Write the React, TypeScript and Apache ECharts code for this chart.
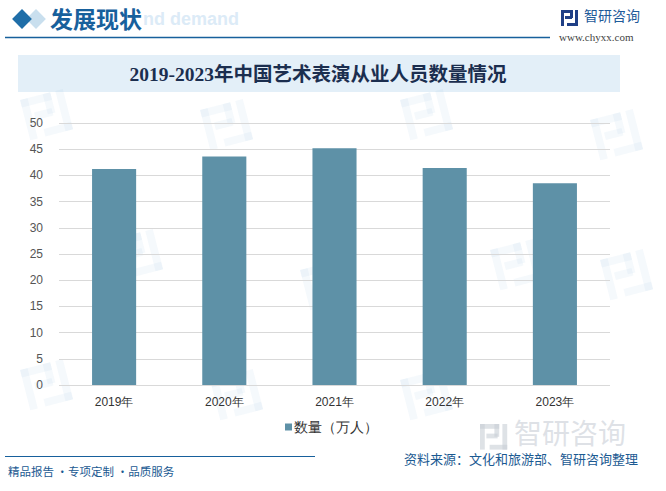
import React, { useEffect, useRef } from "react";
import * as echarts from "echarts";

const categories = ["2019年", "2020年", "2021年", "2022年", "2023年"];
const values = [41.2, 43.6, 45.2, 41.4, 38.5];
const seriesName = "数量（万人）";
const chartTitle = "2019-2023年中国艺术表演从业人员数量情况";
const sourceText = "资料来源：文化和旅游部、智研咨询整理";
const sloganText = "精品报告 ·专项定制 ·品质服务";

const BAR = "#5e91a7";
const BLUE = "#17609c";

function logo(x: number, y: number, s: number, color: string, opacity: number) {
  return {
    type: "group",
    x,
    y,
    scaleX: s,
    scaleY: s,
    silent: true,
    children: [
      { type: "rect", shape: { x: 0, y: 0, width: 12, height: 3 }, style: { fill: color, opacity } },
      { type: "rect", shape: { x: 9, y: 0, width: 3, height: 8 }, style: { fill: color, opacity } },
      { type: "rect", shape: { x: 0, y: 0, width: 3, height: 16 }, style: { fill: color, opacity } },
      { type: "rect", shape: { x: 4, y: 6, width: 7, height: 3 }, style: { fill: color, opacity } },
      { type: "rect", shape: { x: 14, y: 0, width: 3, height: 16 }, style: { fill: color, opacity } },
      { type: "rect", shape: { x: 6, y: 13, width: 11, height: 3 }, style: { fill: color, opacity } },
    ],
  };
}

export default function App() {
  const ref = useRef<HTMLDivElement>(null);
  useEffect(() => {
    if (!ref.current) return;
    const chart = echarts.init(ref.current, null, { renderer: "svg" });
    const wm = [
      [20, 100], [200, 110], [400, 100], [590, 120],
      [110, 240], [300, 270], [490, 250], [20, 370], [210, 380], [400, 380], [600, 260],
    ];
    chart.setOption({
      animation: false,
      backgroundColor: "#ffffff",
      grid: { left: 59, right: 56, top: 123, bottom: 106 },
      xAxis: {
        type: "category",
        data: categories,
        axisLine: { show: false },
        axisTick: { show: false },
        axisLabel: { color: "#333", fontSize: 12, margin: 11 },
      },
      yAxis: {
        type: "value",
        min: 0,
        max: 50,
        interval: 5,
        axisLine: { show: false },
        axisTick: { show: false },
        splitLine: { lineStyle: { color: "#d9d9d9", width: 1 } },
        axisLabel: { color: "#555", fontSize: 12, margin: 16 },
      },
      legend: {
        data: [seriesName],
        bottom: 52,
        left: 280,
        itemWidth: 7,
        itemHeight: 7,
        icon: "rect",
        itemGap: 4,
        textStyle: { color: "#333", fontSize: 14, padding: [0, 0, 0, -3] },
      },
      series: [
        {
          name: seriesName,
          type: "bar",
          data: values,
          barWidth: "40%",
          itemStyle: { color: BAR },
        },
      ],
      graphic: [
        ...wm.map(([x, y]) => ({
          ...logo(x, y, 2.6, "#9ec3df", 0.1),
          rotation: 0.25,
          z: -10,
        })),
        logo(480, 424, 1.6, "#c8ced6", 0.6),
        {
          type: "text",
          x: 514,
          y: 418,
          z: -5,
          silent: true,
          style: { text: "智研咨询", font: "28px 'Noto Sans CJK SC'", fill: "#c8ced6", opacity: 0.6 },
        },
        {
          type: "text",
          left: 143,
          top: 10,
          z: -5,
          style: { text: "nd demand", font: "bold 18px Arial", fill: "#dcebf7" },
        },
        {
          type: "rect",
          shape: { x: 15, y: 12, width: 14, height: 14 },
          rotation: Math.PI / 4,
          originX: 22,
          originY: 19,
          style: { fill: "#1f6ea8" },
          z: 2,
        },
        {
          type: "rect",
          shape: { x: 29, y: 12, width: 14, height: 14 },
          rotation: Math.PI / 4,
          originX: 36,
          originY: 19,
          style: { fill: "#c9dfee" },
          z: 1,
        },
        {
          type: "text",
          x: 50,
          y: 6,
          style: { text: "发展现状", font: "bold 23px 'Noto Sans CJK SC'", fill: BLUE },
          z: 3,
        },
        {
          type: "line",
          shape: { x1: 5, y1: 37.5, x2: 550, y2: 37.5 },
          style: { stroke: BLUE, lineWidth: 1.5 },
        },
        { ...logo(561, 10, 1, "#1f3f86", 1) },
        {
          type: "text",
          x: 584,
          y: 8,
          style: { text: "智研咨询", font: "14px 'Noto Sans CJK SC'", fill: "#1f5b9a" },
        },
        {
          type: "text",
          x: 559,
          y: 31,
          style: { text: "www.chyxx.com", font: "11px 'Liberation Serif'", fill: "#444" },
        },
        {
          type: "rect",
          shape: { x: 18, y: 55, width: 602, height: 37 },
          style: { fill: "#e3eff8" },
          z: -1,
        },
        {
          type: "text",
          x: 318,
          y: 74,
          style: {
            text: chartTitle,
            font: "bold 19.5px 'Liberation Serif', 'Noto Sans CJK SC'",
            fill: "#1b2e4f",
            align: "center",
            verticalAlign: "middle",
          },
        },
        {
          type: "line",
          shape: { x1: 5, y1: 456.5, x2: 315, y2: 456.5 },
          style: { stroke: BLUE, lineWidth: 1.2 },
        },
        {
          type: "text",
          x: 638,
          y: 452,
          style: { text: sourceText, font: "13px 'Noto Sans CJK SC'", fill: "#1b5a92", align: "right" },
        },
        {
          type: "text",
          x: 8,
          y: 465,
          style: { text: sloganText, font: "11.5px 'Noto Sans CJK SC'", fill: "#1b5a92" },
        },
      ],
    });
    return () => chart.dispose();
  }, []);
  return (
    <div
      ref={ref}
      style={{ position: "absolute", left: 0, top: 0, width: 666, height: 491 }}
    />
  );
}
